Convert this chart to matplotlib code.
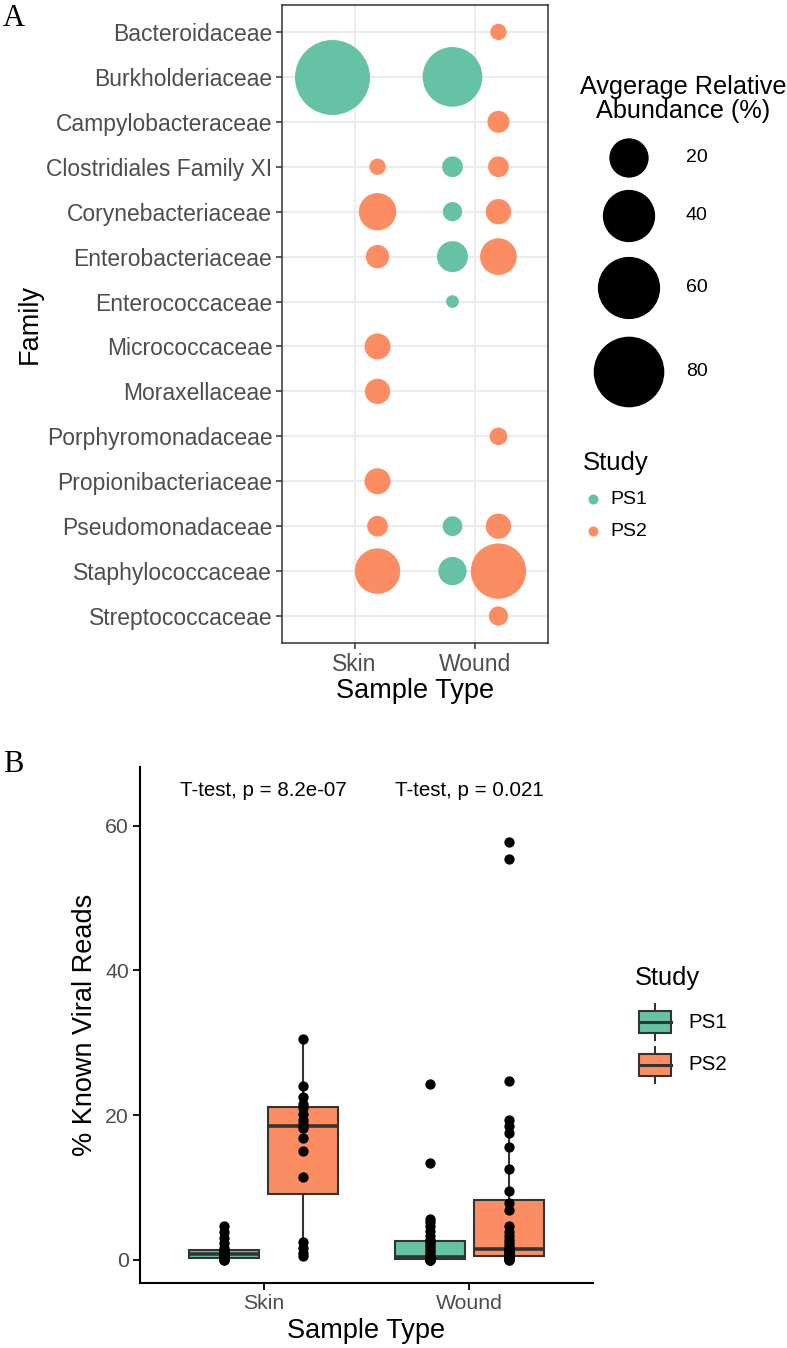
import matplotlib
matplotlib.use('Agg')
import matplotlib.pyplot as plt
from matplotlib.patches import Rectangle
import numpy as np

DPI = 100
W, H = 787, 1348
TEAL = '#66C2A5'
ORANGE = '#FC8D62'
GREY30 = '#4D4D4D'
GREY20 = '#333333'
FONT = 'Liberation Sans'
SERIF = 'Liberation Serif'
plt.rcParams['font.family'] = [FONT, 'DejaVu Sans']

SAMPLE_TYPES = ['Skin', 'Wound']
STUDIES = ['PS1', 'PS2']
STUDY_COLORS = [TEAL, ORANGE]

# --- panel A: average relative abundance (%) per family, nan = absent
FAMILIES = ['Bacteroidaceae', 'Burkholderiaceae', 'Campylobacteraceae',
            'Clostridiales Family XI', 'Corynebacteriaceae', 'Enterobacteriaceae',
            'Enterococcaceae', 'Micrococcaceae', 'Moraxellaceae',
            'Porphyromonadaceae', 'Propionibacteriaceae', 'Pseudomonadaceae',
            'Staphylococcaceae', 'Streptococcaceae']
nan = np.nan
ABUND_SKIN_PS1 = [nan, 91.6, nan, nan, nan, nan, nan, nan, nan, nan, nan, nan, nan, nan]
ABUND_SKIN_PS2 = [nan, nan, nan, 1.4, 17.6, 4.8, nan, 6.6, 6.1, nan, 6.6, 3.3, 28.5, nan]
ABUND_WOUND_PS1 = [nan, 54.5, nan, 3.3, 2.6, 10.8, 0.45, nan, nan, nan, nan, 2.8, 8.4, nan]
ABUND_WOUND_PS2 = [1.4, nan, 4.0, 3.3, 6.1, 16.8, nan, nan, nan, 1.9, nan, 6.1, 45.7, 2.6]
SIZE_BREAKS = [20, 40, 60, 80]

# --- panel B: % known viral reads per sample
VIRAL_SKIN_PS1 = [0.0, 0.05, 0.1, 0.15, 0.22, 0.3, 0.4, 0.5, 0.6, 0.7, 0.78, 0.85,
                  0.95, 1.05, 1.15, 1.3, 1.4, 1.7, 2.3, 3.0, 3.8, 4.7]
VIRAL_SKIN_PS2 = [0.5, 1.0, 1.6, 2.5, 11.4, 15.1, 16.8, 18.2, 18.8, 19.3, 20.2, 21.0,
                  21.5, 22.5, 24.1, 30.5]
VIRAL_WOUND_PS1 = [0.0, 0.02, 0.04, 0.06, 0.08, 0.1, 0.12, 0.13, 0.15, 0.18, 0.22, 0.26,
                   0.3, 0.34, 0.37, 0.4, 0.6, 0.9, 1.2, 1.6, 2.0, 2.3, 2.6, 2.75, 3.3,
                   4.0, 4.7, 5.2, 5.6, 13.4, 24.3]
VIRAL_WOUND_PS2 = [0.0, 0.05, 0.1, 0.15, 0.2, 0.25, 0.3, 0.4, 0.48, 0.55, 0.65, 0.75,
                   0.85, 0.95, 1.05, 1.2, 1.3, 1.45, 1.6, 1.9, 2.3, 2.8, 3.3, 3.9, 4.7,
                   6.9, 7.9, 9.5, 12.6, 15.6, 17.6, 18.5, 19.3, 24.7, 55.4, 57.8]
TTEST_LABELS = ['T-test, p = 8.2e-07', 'T-test, p = 0.021']
TTEST_Y = 64.8

DODGE = 0.19


def px2fig(x, y):
    return x / W, 1 - y / H


def bubble_area(v):
    # diameter grows with sqrt of the value (ggplot-like area scale)
    d_px = 8 + 7 * np.sqrt(np.asarray(v, dtype=float))
    return (d_px * 72 / DPI) ** 2


fig = plt.figure(figsize=(W / DPI, H / DPI), dpi=DPI)

# ================= Panel A =================
l, b = px2fig(282, 643)
axA = fig.add_axes([l, b, (548 - 282) / W, (643 - 5) / H])
ypos = np.arange(len(FAMILIES))
series_a = [(0, 0, ABUND_SKIN_PS1), (0, 1, ABUND_SKIN_PS2),
            (1, 0, ABUND_WOUND_PS1), (1, 1, ABUND_WOUND_PS2)]
for si, st, vals in series_a:
    vals = np.array(vals, dtype=float)
    ok = ~np.isnan(vals)
    x = np.full(ok.sum(), si + 1 + (DODGE if st else -DODGE))
    axA.scatter(x, ypos[ok], s=bubble_area(vals[ok]), c=STUDY_COLORS[st],
                linewidths=0, zorder=3)
axA.set_xlim(0.4, 2.6)
axA.set_ylim(len(FAMILIES) - 1 + 0.6, -0.6)
axA.set_xticks([1, 2])
axA.set_xticklabels(SAMPLE_TYPES)
axA.set_yticks(ypos)
axA.set_yticklabels(FAMILIES)
axA.grid(True, color='#EBEBEB', linewidth=1.5, zorder=0)
axA.set_axisbelow(True)
for sp in axA.spines.values():
    sp.set_color(GREY20)
    sp.set_linewidth(1.1)
axA.tick_params(colors=GREY20, labelcolor=GREY30, labelsize=16.5, length=4.5,
                width=1.1, pad=2.5)

fig.text(*px2fig(30, 324), 'Family', rotation=90, ha='center', va='center', fontsize=19.5)
fig.text(*px2fig(415, 691), 'Sample Type', ha='center', va='center', fontsize=19.5)

# ================= Panel B =================
l, b = px2fig(140, 1283)
axB = fig.add_axes([l, b, (593 - 140) / W, (1283 - 767) / H])
series_b = [(0, 0, VIRAL_SKIN_PS1), (0, 1, VIRAL_SKIN_PS2),
            (1, 0, VIRAL_WOUND_PS1), (1, 1, VIRAL_WOUND_PS2)]
for si, st, vals in series_b:
    pos = si + 1 + (DODGE if st else -DODGE)
    axB.boxplot([vals], positions=[pos], widths=0.34, patch_artist=True,
                showfliers=False, showcaps=False,
                boxprops=dict(facecolor=STUDY_COLORS[st], edgecolor=GREY20, linewidth=1.5),
                whiskerprops=dict(color=GREY20, linewidth=1.5),
                medianprops=dict(color=GREY20, linewidth=2.6), zorder=2)
    axB.scatter(np.full(len(vals), pos), vals, s=55, c='black', linewidths=0, zorder=4)
for i, lab in enumerate(TTEST_LABELS):
    axB.text(i + 1, TTEST_Y, lab, ha='center', va='center', fontsize=14.8)
axB.set_xlim(0.4, 2.6)
axB.set_ylim(-3.18, 68.1)
axB.set_xticks([1, 2])
axB.set_xticklabels(SAMPLE_TYPES)
axB.set_yticks([0, 20, 40, 60])
for side in ['top', 'right']:
    axB.spines[side].set_visible(False)
for side in ['left', 'bottom']:
    axB.spines[side].set_linewidth(1.5)
    axB.spines[side].set_color('black')
axB.tick_params(colors='black', labelcolor=GREY30, labelsize=15.3, length=5,
                width=1.3, pad=3)

fig.text(*px2fig(85, 1025), '% Known Viral Reads', rotation=90, ha='center',
         va='center', fontsize=19.5)
fig.text(*px2fig(366, 1331), 'Sample Type', ha='center', va='center', fontsize=19.5)

# ================= legends & panel letters (overlay in pixel units) =================
ov = fig.add_axes([0, 0, 1, 1], facecolor='none')
ov.set_xlim(0, W)
ov.set_ylim(H, 0)
ov.axis('off')

ov.text(14, 18, 'A', family=SERIF, fontsize=22, ha='center', va='center')
ov.text(13, 765, 'B', family=SERIF, fontsize=22, ha='center', va='center')

# size legend
ov.text(683, 99, 'Avgerage Relative\nAbundance (%)', ha='center', va='center',
        fontsize=18.2, linespacing=1.02)
size_rows = [158, 216, 288, 372]
ov.scatter(np.full(len(SIZE_BREAKS), 629), size_rows, s=bubble_area(SIZE_BREAKS),
           c='black', linewidths=0)
for yy, br in zip(size_rows, SIZE_BREAKS):
    ov.text(686, yy, str(br), ha='left', va='center', fontsize=14, color='black')

# colour legend, panel A
ov.text(583, 463, 'Study', ha='left', va='center', fontsize=18.5)
for yy, st, col in zip([499, 531], STUDIES, STUDY_COLORS):
    ov.scatter([593], [yy], s=(10 * 72 / DPI) ** 2, c=col, linewidths=0)
    ov.text(610, yy, st, ha='left', va='center', fontsize=14)

# fill legend, panel B
ov.text(635, 978, 'Study', ha='left', va='center', fontsize=18.4)
for yy, st, col in zip([1022, 1065], STUDIES, STUDY_COLORS):
    ov.plot([655, 655], [yy - 18, yy + 18], color=GREY20, lw=1.5, zorder=1)
    ov.add_patch(Rectangle((639, yy - 11), 32, 22, facecolor=col, edgecolor=GREY20,
                           lw=1.5, zorder=2))
    ov.plot([639, 671], [yy, yy], color=GREY20, lw=2.2, zorder=3)
    ov.text(688, yy, st, ha='left', va='center', fontsize=14.8)

fig.savefig('out.png', dpi=DPI)
